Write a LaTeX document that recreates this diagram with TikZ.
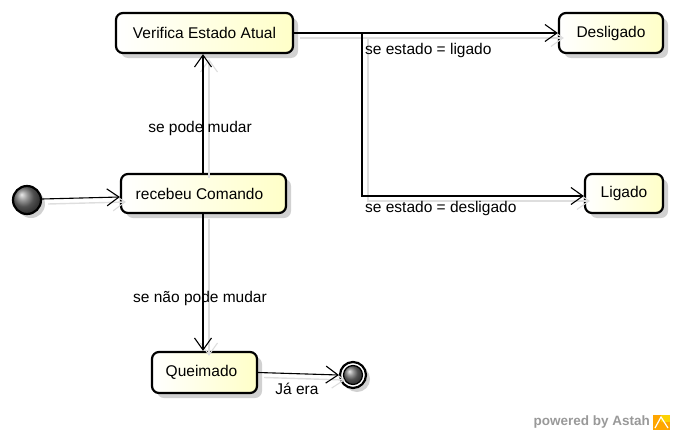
\documentclass[tikz,border=0pt]{standalone}
\usepackage{fontspec}
\setmainfont{Liberation Sans}
\usetikzlibrary{arrows.meta,shadows,calc}
\definecolor{astahyellow}{RGB}{255,255,200}
\tikzset{
  state/.style={draw=black, line width=2.2pt, rounded corners=7pt,
    left color=white, right color=astahyellow, inner sep=0pt,
    drop shadow={shadow xshift=5pt, shadow yshift=-5pt, fill=black!18, opacity=1},
    font=\fontsize{15.5}{18}\selectfont},
  conn/.style={line width=1.1pt,
    -{Straight Barb[length=12pt,width=17pt,line width=1.1pt]},
    preaction={draw=black!13, line width=1.4pt,
      transform canvas={shift={(6pt,-5pt)}}}},
  lbl/.style={font=\fontsize{15.5}{18}\selectfont, inner sep=0pt}
}
\begin{document}
\begin{tikzpicture}[x=1pt,y=-1pt]
\useasboundingbox (0,0) rectangle (676,436);
% states
\node[state, minimum width=177pt, minimum height=40pt] (v) at (204.5,33) {Verifica Estado Atual};
\node[state, minimum width=165pt, minimum height=39pt] (rc) at (203.5,193.5) {\hspace*{-8pt}recebeu Comando};
\node[state, minimum width=104pt, minimum height=40pt] (d) at (611,33) {Desligado};
\node[state, minimum width=78pt, minimum height=39pt] (l) at (624,193.5) {Ligado};
\node[state, minimum width=105pt, minimum height=41pt] (q) at (204.5,372.5) {\hspace*{-6pt}Queimado};
% initial
\node[circle, draw=black, line width=2.2pt, minimum size=28pt, inner sep=0pt,
  shading=ball, ball color=black!55,
  drop shadow={shadow xshift=4pt, shadow yshift=-4pt, fill=black!18, opacity=1}] (init) at (27,200) {};
% final
\node[circle, draw=black, line width=2.2pt, minimum size=26pt, inner sep=0pt, fill=white,
  drop shadow={shadow xshift=4pt, shadow yshift=-4pt, fill=black!18, opacity=1}] (fin) at (353,375) {};
\node[circle, draw=black, line width=1.2pt, minimum size=19pt, inner sep=0pt,
  shading=ball, ball color=black!55] (finin) at (fin) {};
% connectors
\draw[conn] ([yshift=1pt]init.east) -- ([yshift=-3.5pt]rc.west);
\draw[conn] (rc.north -| 203,0) -- (v.south -| 203,0);
\draw[conn] (rc.south -| 203,0) -- (q.north -| 203,0);
\draw[conn] (v.east) -- (d.west);
\coordinate (br) at (362,33);
\draw[conn] (br) |- ([yshift=-2.5pt]l.west);
\draw[conn] (q.east) -- (fin.west);
% labels
\node[lbl] (l1) at (200,128) {se pode mudar};
\node[lbl] (l2) at (200,298) {se não pode mudar};
\node[lbl, anchor=west] (l3) at (365,50) {se estado = ligado};
\node[lbl, anchor=west] (l4) at (365,208) {se estado = desligado};
\node[lbl] (l5) at (297,389) {Já era};
% watermark
\node[anchor=east, inner sep=0pt, text=black!40, font=\bfseries\fontsize{13.5}{16}\selectfont] (wm) at (650,422) {powered by Astah};
\fill[orange!70!yellow] (653,415) rectangle (670,430);
\fill[yellow!70!orange] (661,415) rectangle (670,422);
\draw[white, line width=1.2pt] (655,428) -- (661,417) -- (668,428);
\end{tikzpicture}
\end{document}
